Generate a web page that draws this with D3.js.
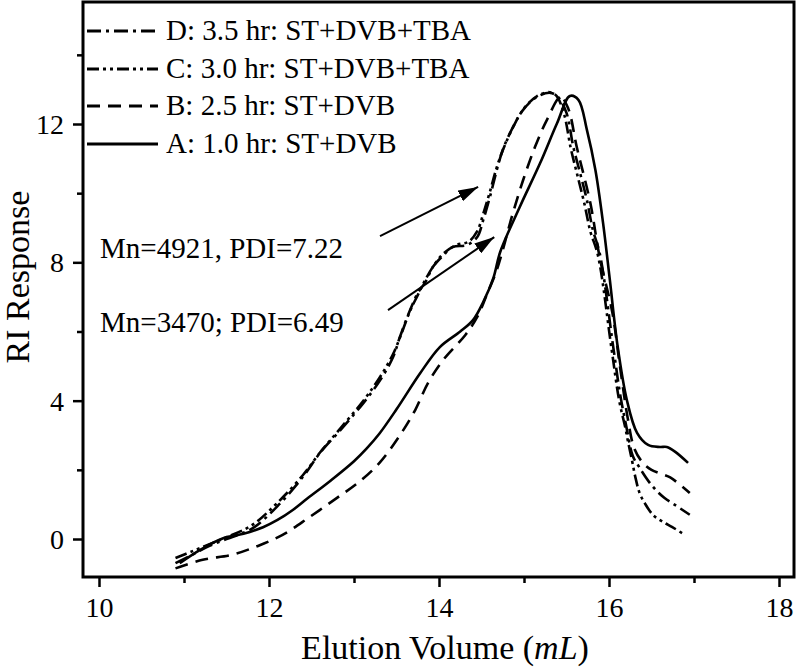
<!DOCTYPE html>
<html>
<head>
<meta charset="utf-8">
<script src="https://cdn.jsdelivr.net/npm/d3@7"></script>
<style>
  html, body { margin: 0; padding: 0; background: #fff; }
  svg { display: block; }
  text { font-family: "Liberation Serif", "Times New Roman", serif; fill: #000; }
</style>
</head>
<body>
<svg id="chart" width="800" height="670"></svg>
<script>
// ---- Data ----
const seriesNames = ["D: 3.5 hr: ST+DVB+TBA", "C: 3.0 hr: ST+DVB+TBA", "B: 2.5 hr: ST+DVB", "A: 1.0 hr: ST+DVB"];

const xA = [10.95, 11.2, 11.46, 11.7, 11.93, 12.1, 12.28, 12.45, 12.72, 13.0, 13.15, 13.3, 13.5, 13.78, 14.01, 14.25, 14.4, 14.52, 14.64, 14.72, 14.95, 15.19, 15.39, 15.54, 15.64, 15.74, 15.84, 15.93, 16.01, 16.1, 16.21, 16.33, 16.46, 16.6, 16.68, 16.78, 16.93];
const yA = [-0.7, -0.3, 0.02, 0.15, 0.34, 0.55, 0.84, 1.17, 1.68, 2.25, 2.62, 3.05, 3.75, 4.8, 5.55, 6.0, 6.33, 6.85, 7.55, 8.3, 9.6, 10.87, 12.03, 12.81, 12.7, 11.83, 10.67, 9.14, 7.49, 5.6, 4.02, 3.07, 2.72, 2.66, 2.66, 2.52, 2.2];

const xB = [10.9, 11.22, 11.56, 11.87, 12.16, 12.48, 12.8, 13.05, 13.3, 13.54, 13.72, 13.87, 14.05, 14.31, 14.45, 14.56, 14.68, 14.87, 14.99, 15.13, 15.27, 15.43, 15.52, 15.62, 15.78, 15.89, 16.04, 16.13, 16.22, 16.3, 16.4, 16.5, 16.62, 16.72, 16.82, 16.95];
const yB = [-0.85, -0.6, -0.46, -0.2, 0.12, 0.64, 1.19, 1.63, 2.2, 3.0, 3.73, 4.51, 5.18, 5.9, 6.42, 7.05, 7.78, 9.43, 10.38, 11.34, 12.12, 12.78, 12.45, 11.34, 9.72, 8.15, 6.54, 4.97, 3.5, 2.6, 2.2, 2.0, 1.88, 1.78, 1.6, 1.33];

const xC = [10.9, 11.1, 11.3, 11.5, 11.8, 12.1, 12.4, 12.6, 12.84, 13.11, 13.31, 13.46, 13.56, 13.66, 13.75, 13.84, 13.95, 14.05, 14.2, 14.35, 14.45, 14.52, 14.6, 14.68, 14.76, 14.88, 15.0, 15.15, 15.3, 15.38, 15.47, 15.55, 15.63, 15.71, 15.78, 15.87, 16.03, 16.12, 16.19, 16.22, 16.27, 16.31, 16.36, 16.42, 16.52, 16.64, 16.74, 16.86];
const yC = [-0.55, -0.35, -0.15, 0.05, 0.4, 1.05, 1.85, 2.5, 3.2, 4.0, 4.7, 5.35, 5.95, 6.6, 7.05, 7.5, 7.95, 8.25, 8.5, 8.6, 8.9, 9.4, 10.05, 10.75, 11.3, 11.95, 12.45, 12.8, 12.92, 12.82, 12.3, 11.3, 10.5, 9.7, 8.9, 8.2, 5.5, 4.0, 3.24, 2.86, 2.28, 1.79, 1.33, 1.04, 0.69, 0.49, 0.35, 0.17];

const xD = [10.9, 11.1, 11.3, 11.5, 11.8, 12.1, 12.4, 12.6, 12.84, 13.11, 13.31, 13.46, 13.54, 13.66, 13.75, 13.84, 13.93, 14.05, 14.16, 14.33, 14.45, 14.52, 14.6, 14.68, 14.75, 14.87, 14.99, 15.15, 15.31, 15.4, 15.5, 15.58, 15.66, 15.74, 15.81, 15.89, 16.05, 16.13, 16.2, 16.28, 16.35, 16.5, 16.65, 16.78, 16.95];
const yD = [-0.7, -0.45, -0.2, 0.0, 0.3, 0.95, 1.8, 2.49, 3.15, 3.93, 4.6, 5.26, 5.84, 6.62, 7.11, 7.43, 7.87, 8.2, 8.44, 8.5, 8.73, 9.22, 9.9, 10.67, 11.25, 11.91, 12.41, 12.78, 12.9, 12.78, 12.32, 11.34, 10.58, 9.8, 8.94, 8.27, 5.55, 4.2, 3.3, 2.4, 2.1, 1.56, 1.19, 0.98, 0.7];

const xMajorTicks = [10, 12, 14, 16, 18];
const xMinorTicks = [11, 13, 15, 17];
const yMajorTicks = [0, 4, 8, 12];
const yMinorTicks = [2, 6, 10, 14];

const annotationTexts = ["Mn=4921, PDI=7.22", "Mn=3470; PDI=6.49"];

// ---- Layout ----
const svg = d3.select("#chart");
const frame = { left: 83, right: 794, top: 2, bottom: 577 };

const x = d3.scaleLinear().domain([10, 18]).range([99, 779]);
const y = d3.scaleLinear().domain([0, 12]).range([539, 124]);

const styles = {
  D: "14,5,3,5",
  C: "12,4,3,4,3,4",
  B: "13,8",
  A: null
};

// ---- Axes ----
const fontFam = '"Liberation Serif", "Times New Roman", serif';

const gx = svg.append("g").attr("transform", `translate(0,${frame.bottom})`);
gx.call(d3.axisBottom(x).tickValues(xMajorTicks).tickSize(10).tickFormat(d3.format("d")));
gx.append("g").call(d3.axisBottom(x).tickValues(xMinorTicks).tickSize(6).tickFormat(""));
gx.selectAll(".domain").remove();
gx.selectAll("line").attr("stroke", "#000").attr("stroke-width", 2.5);
gx.selectAll("text").attr("y", 40).attr("dy", 0).style("font-size", "28px").style("font-family", fontFam).attr("fill", "#000");

const gy = svg.append("g").attr("transform", `translate(${frame.left},0)`);
gy.call(d3.axisLeft(y).tickValues(yMajorTicks).tickSize(10).tickFormat(d3.format("d")));
gy.append("g").call(d3.axisLeft(y).tickValues(yMinorTicks).tickSize(6).tickFormat(""));
gy.selectAll(".domain").remove();
gy.selectAll("line").attr("stroke", "#000").attr("stroke-width", 2.5);
gy.selectAll("text").attr("x", -19).attr("dy", "0.34em").style("font-size", "28px").style("font-family", fontFam).attr("fill", "#000");

// ---- Curves ----
const line = d3.line()
  .x(d => x(d[0]))
  .y(d => y(d[1]))
  .curve(d3.curveCatmullRom.alpha(0.5));

const series = [
  { key: "A", xs: xA, ys: yA },
  { key: "B", xs: xB, ys: yB },
  { key: "C", xs: xC, ys: yC },
  { key: "D", xs: xD, ys: yD }
];

series.forEach(s => {
  const pts = s.xs.map((v, i) => [v, s.ys[i]]);
  svg.append("path")
    .datum(pts)
    .attr("d", line)
    .attr("fill", "none")
    .attr("stroke", "#000")
    .attr("stroke-width", 2.6)
    .attr("stroke-linecap", "butt")
    .attr("stroke-linejoin", "round")
    .attr("stroke-dasharray", styles[s.key]);
});

// ---- Frame ----
svg.append("rect")
  .attr("x", frame.left).attr("y", frame.top)
  .attr("width", frame.right - frame.left)
  .attr("height", frame.bottom - frame.top)
  .attr("fill", "none").attr("stroke", "#000").attr("stroke-width", 3);

// ---- Axis titles ----
const xt = svg.append("text")
  .attr("x", 445).attr("y", 659)
  .attr("text-anchor", "middle")
  .style("font-size", "34px");
xt.append("tspan").text("Elution Volume (");
xt.append("tspan").style("font-style", "italic").text("mL");
xt.append("tspan").text(")");

svg.append("text")
  .attr("transform", "translate(29,277) rotate(-90)")
  .attr("text-anchor", "middle")
  .style("font-size", "34px")
  .text("RI Response");

// ---- Legend ----
const legendKeys = ["D", "C", "B", "A"];
const legendY = [40, 78, 115, 153];
legendKeys.forEach((k, i) => {
  svg.append("line")
    .attr("x1", 87).attr("x2", 158)
    .attr("y1", legendY[i] - 9).attr("y2", legendY[i] - 9)
    .attr("stroke", "#000").attr("stroke-width", 3)
    .attr("stroke-dasharray", styles[k]);
  svg.append("text")
    .attr("x", 166).attr("y", legendY[i])
    .style("font-size", "29px")
    .text(seriesNames[i]);
});

// ---- Annotations ----
svg.append("text").attr("x", x(10.012)).attr("y", y(8.13)).style("font-size", "29px").text(annotationTexts[0]);
svg.append("text").attr("x", x(10.012)).attr("y", y(5.99)).style("font-size", "29px").text(annotationTexts[1]);

svg.append("defs").append("marker")
  .attr("id", "arrow")
  .attr("viewBox", "0 0 20 12")
  .attr("refX", 20).attr("refY", 6)
  .attr("markerWidth", 20).attr("markerHeight", 12)
  .attr("markerUnits", "userSpaceOnUse")
  .attr("orient", "auto")
  .append("path").attr("d", "M0,0 L20,6 L0,12 Z").attr("fill", "#000");

const arrows = [
  [13.306, 8.76, 14.46, 10.18],
  [13.40, 6.62, 14.65, 8.73]
];
arrows.forEach(a => {
  svg.append("line")
    .attr("x1", x(a[0])).attr("y1", y(a[1]))
    .attr("x2", x(a[2])).attr("y2", y(a[3]))
    .attr("stroke", "#000").attr("stroke-width", 2)
    .attr("marker-end", "url(#arrow)");
});
</script>
</body>
</html>
